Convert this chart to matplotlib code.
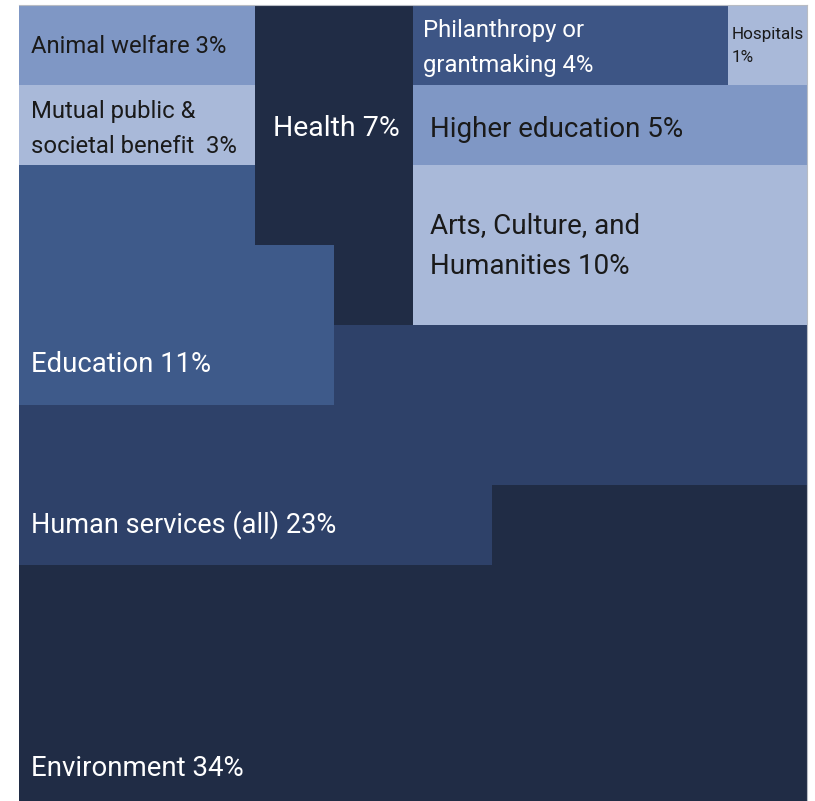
import numpy as np
import matplotlib.pyplot as plt
from matplotlib import font_manager
from matplotlib.colors import ListedColormap

# Share of giving by cause area, one cell = 1%
categories = ["Animal welfare", "Mutual public & societal benefit", "Health",
              "Philanthropy or grantmaking", "Hospitals", "Higher education",
              "Arts, Culture, and Humanities", "Education",
              "Human services (all)", "Environment"]
codes = ["A", "M", "H", "P", "O", "G", "R", "E", "S", "V"]
percents = [3, 3, 7, 4, 1, 5, 10, 11, 23, 34]

# cell layout of the 10 x 10 grid, top row first
grid_rows = [
    "AAAHHPPPPO",
    "MMMHHGGGGG",
    "EEEHHRRRRR",
    "EEEEHRRRRR",
    "EEEESSSSSS",
    "SSSSSSSSSS",
    "SSSSSSVVVV",
    "VVVVVVVVVV",
    "VVVVVVVVVV",
    "VVVVVVVVVV",
]

colors = ["#7f97c5", "#a9b9d9", "#202c45", "#3d5585", "#a9b9d9",
          "#7f97c5", "#a9b9d9", "#3e5a8a", "#2e4169", "#202c45"]
text_colors = ["#1a1a1a", "#1a1a1a", "white", "white", "#1a1a1a",
               "#1a1a1a", "#1a1a1a", "white", "white", "white"]

# label text, position (grid units) and size for each category
labels = [f"Animal welfare {percents[0]}%",
          f"Mutual public &\nsocietal benefit  {percents[1]}%",
          f"Health {percents[2]}%",
          f"Philanthropy or\ngrantmaking {percents[3]}%",
          f"Hospitals\n{percents[4]}%",
          f"Higher education {percents[5]}%",
          f"Arts, Culture, and\nHumanities {percents[6]}%",
          f"Education {percents[7]}%",
          f"Human services (all) {percents[8]}%",
          f"Environment {percents[9]}%"]
label_pos = [(0.15, 0.52), (0.15, 1.55), (3.22, 1.55), (5.13, 0.54), (9.04, 0.51),
             (5.22, 1.56), (5.22, 3.01), (0.15, 4.49), (0.15, 6.50), (0.15, 9.54)]
label_size = [17.2, 17.2, 20.5, 17.2, 12.3, 20, 20, 19.8, 19.5, 19.9]


def pick_font():
    for name in ["Liberation Sans Narrow", "Roboto", "DejaVu Sans"]:
        try:
            font_manager.findfont(font_manager.FontProperties(family=name),
                                  fallback_to_default=False)
            return name
        except ValueError:
            continue
    return "DejaVu Sans"


font_name = pick_font()

cells = np.array([[codes.index(c) for c in row] for row in grid_rows])

fig = plt.figure(figsize=(8.15, 8.01), dpi=100)
# grid runs slightly past the bottom edge of the figure
ax = fig.add_axes([19 / 815, -4 / 801, 788 / 815, 800 / 801])
ax.imshow(cells, cmap=ListedColormap(colors), vmin=-0.5, vmax=len(colors) - 0.5,
          extent=[0, 10, 10, 0], interpolation="nearest", aspect="auto")
ax.set_xlim(0, 10)
ax.set_ylim(10, 0)
ax.set_xticks([])
ax.set_yticks([])
for side in ["left", "bottom"]:
    ax.spines[side].set_visible(False)
for side in ["top", "right"]:
    ax.spines[side].set_color("#b8bcc4")
    ax.spines[side].set_linewidth(0.8)

for lab, (x, y), size, tc in zip(labels, label_pos, label_size, text_colors):
    ax.text(x, y, lab, ha="left", va="center", fontsize=size, color=tc,
            family=font_name, linespacing=1.65)

fig.savefig("out.png", dpi=100)
